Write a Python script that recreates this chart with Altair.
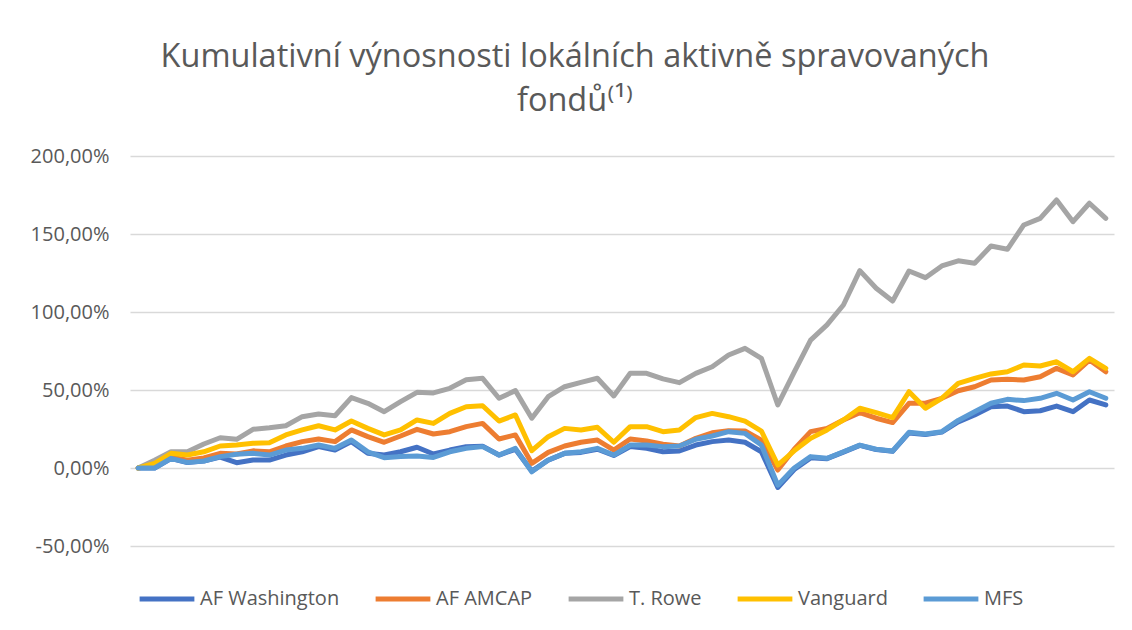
import altair as alt
import pandas as pd

series_names = ["AF Washington", "AF AMCAP", "T. Rowe", "Vanguard", "MFS"]
series_colors = ["#4472C4", "#ED7D31", "#A5A5A5", "#FFC000", "#5B9BD5"]

af_washington = [
    0, 0, 6, 3.5, 4.5, 7, 3.4, 5.1, 5.1, 8.3,
    10.4, 13.7, 11.5, 16.9, 9.4, 8.3, 10.4, 13.3, 9, 11.5,
    13.7, 14, 8.3, 12, -2, 5, 9.4, 10, 12, 8,
    13.7, 12.6, 10.4, 10.9, 14.7, 16.9, 17.9, 16.5, 10.4, -12.5,
    -1, 6.5, 6, 10.2, 14.5, 11.8, 10.7, 22.5, 21.5, 23,
    29.5, 34, 39.3, 39.7, 36.1, 36.7, 39.7, 36.1, 43.6, 40.4]
af_amcap = [
    0, 2, 7, 5, 6.5, 9.4, 9, 11, 10.4, 14.1,
    16.9, 18.6, 16.9, 24.4, 20.1, 16.5, 20.5, 24.8, 21.8, 23.3,
    26.5, 28.6, 18.6, 21.2, 3, 10, 14.1, 16.5, 17.9, 11.5,
    18.6, 17.3, 15.2, 14.1, 19, 22.6, 23.9, 23.7, 17.9, -1.3,
    12, 23.3, 25.4, 30.8, 35.5, 31.9, 29.1, 41.5, 41.5, 44.7,
    49.5, 52.1, 56.4, 56.9, 56.4, 58.5, 63.9, 59.6, 69.2, 61.7]
t_rowe = [
    0, 5, 10.4, 10.4, 15.4, 19.4, 18.4, 24.8, 25.8, 27.1,
    32.9, 34.6, 33.5, 45.1, 41.5, 36.1, 42.5, 48.5, 48.1, 51.1,
    56.6, 57.5, 44.7, 49.6, 31.9, 45.7, 52.1, 54.9, 57.5, 46.2,
    60.7, 60.7, 57.1, 54.7, 60.7, 64.9, 72.4, 76.7, 70.3, 40.4,
    61.5, 82, 91.7, 104.5, 126.5, 115.2, 107, 126.3, 122, 129.5,
    132.8, 131.2, 142.3, 140.2, 155.8, 160, 171.8, 157.9, 169.7, 160]
vanguard = [
    0, 3, 9.4, 8.3, 10.4, 14.1, 14.7, 15.8, 16.2, 21.2,
    24.4, 27.1, 24.4, 30.1, 25.4, 21.2, 24.4, 30.8, 28.6, 35,
    39.3, 39.9, 30.1, 34, 11.1, 20.1, 25.4, 24.4, 26.1, 16.5,
    26.5, 26.5, 23.3, 24.4, 32.3, 35, 32.9, 30.1, 23.7, 1.9,
    11, 19, 24.4, 30.8, 38.3, 35.5, 32.3, 48.9, 38.3, 44.7,
    54.3, 57.5, 60.3, 61.7, 66, 65.4, 68.1, 61.7, 70.3, 63.9]
mfs = [
    0, 0, 6.2, 3.6, 4.5, 7.3, 8.8, 9.4, 8.3, 11.5,
    12.6, 14.7, 12.6, 17.9, 10.4, 6.6, 7.3, 7.7, 6.8, 10.4,
    12.6, 13.7, 8.3, 12.6, -2.4, 5.1, 9.4, 10.4, 12.6, 8.3,
    14.7, 14.7, 13.7, 14.1, 18.4, 20.5, 23.3, 22.2, 14.7, -11,
    0, 7.3, 6.2, 10.4, 14.7, 12, 10.9, 22.9, 21.8, 23.3,
    30.5, 36, 41.5, 44, 43.2, 44.7, 47.9, 43.6, 48.9, 44.7]

y_ticks = [-50, 0, 50, 100, 150, 200]

all_values = [af_washington, af_amcap, t_rowe, vanguard, mfs]
rows = []
for name, vals in zip(series_names, all_values):
    for i, v in enumerate(vals):
        rows.append({"idx": i, "fond": name, "value": v})
df = pd.DataFrame(rows)

color = alt.Color(
    "fond:N",
    scale=alt.Scale(domain=series_names, range=series_colors),
    sort=series_names,
    legend=alt.Legend(
        title=None,
        orient="none",
        legendX=7,
        legendY=413,
        direction="horizontal",
        symbolType="stroke",
        symbolSize=3000,
        symbolStrokeWidth=5,
        labelOffset=3,
        columnPadding=25,
        labelFont="Open Sans",
        labelFontSize=20,
        labelColor="#595959",
        padding=0,
    ),
)

base = alt.Chart(df).encode(
    x=alt.X("idx:Q", scale=alt.Scale(domain=[-0.5, 59.5], nice=False, zero=False), axis=None),
    y=alt.Y(
        "value:Q",
        scale=alt.Scale(domain=[-50, 200], nice=False),
        axis=alt.Axis(
            title=None,
            values=y_ticks,
            domain=False,
            ticks=False,
            grid=True,
            gridColor="#D9D9D9",
            gridWidth=1.3,
            labelFont="Open Sans",
            labelFontSize=20,
            labelColor="#595959",
            labelPadding=21,
            labelExpr="(datum.value < 0 ? '-' : '') + replace(format(abs(datum.value) / 100, '.2%'), '.', ',')",
        ),
    ),
    color=color,
)

layers = [
    base.transform_filter(alt.datum.fond == name).mark_line(
        strokeWidth=5, strokeJoin="round", strokeCap="round"
    )
    for name in series_names
]

chart = alt.layer(*layers).properties(
    width=984,
    height=390,
    autosize=alt.AutoSizeParams(type="none"),
    padding={"left": 122, "top": 148, "right": 10, "bottom": 76},
    title=alt.TitleParams(
        text=["Kumulativní výnosnosti lokálních aktivně spravovaných", "fondů⁽¹⁾"],
        font="Open Sans",
        fontSize=32.5,
        fontWeight="normal",
        color="#595959",
        anchor="middle",
        frame="group",
        dx=-47,
        offset=29,
        lineHeight=44,
    ),
).configure_view(stroke=None)

chart.save("out.html", embed_options={"renderer": "svg", "actions": False})
